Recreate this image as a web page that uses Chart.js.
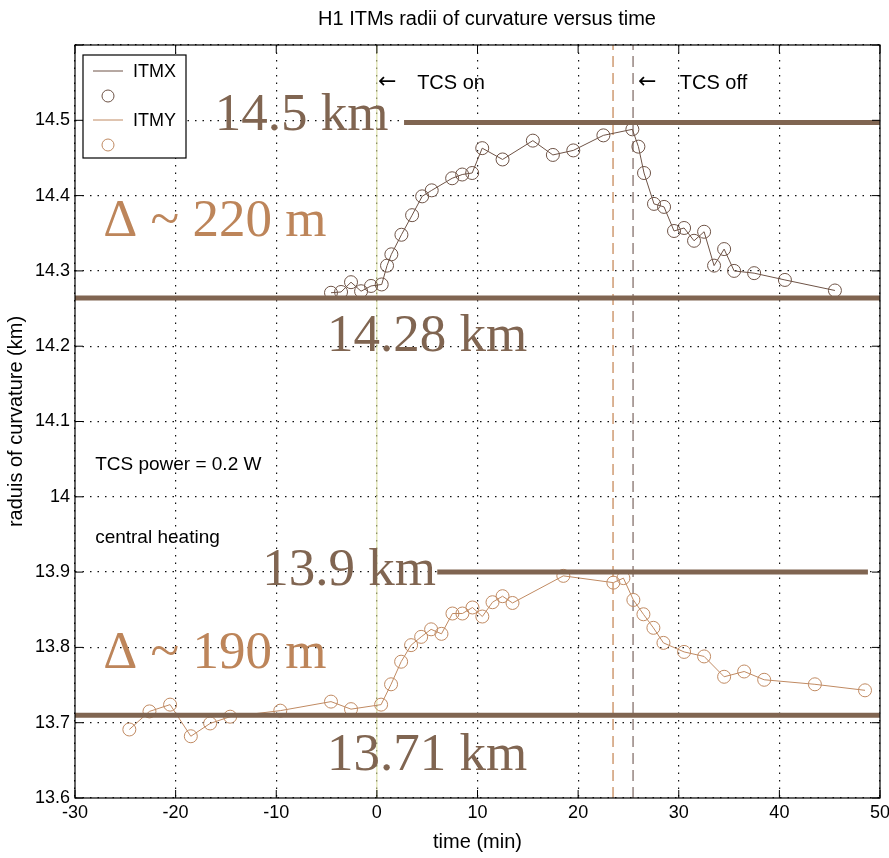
<!DOCTYPE html>
<html>
<head>
<meta charset="utf-8">
<script src="https://cdn.jsdelivr.net/npm/chart.js@4.4.0/dist/chart.umd.min.js"></script>
<style>
  body { margin: 0; background: #fff; }
  canvas { display: block; }
</style>
</head>
<body>
<canvas id="myChart" width="889" height="858"></canvas>
<script>
// ITMX radius of curvature (km) vs time (min)
const itmxTime = [-4.56, -3.56, -2.57, -1.57, -0.58, 0.48, 1.01, 1.44, 2.44, 3.5, 4.5, 5.45, 7.48, 8.48, 9.47,
  10.47, 12.49, 15.5, 17.49, 19.52, 22.51, 25.39, 25.99, 26.55, 27.54, 28.54, 29.53, 30.53, 31.52, 32.52,
  33.51, 34.51, 35.5, 37.49, 40.55, 45.52];
const itmxRadius = [14.271, 14.272, 14.285, 14.273, 14.280, 14.282, 14.307, 14.322, 14.348, 14.374, 14.399, 14.407,
  14.423, 14.428, 14.430, 14.463, 14.448, 14.473, 14.454, 14.460, 14.480, 14.488, 14.465, 14.430, 14.389,
  14.385, 14.353, 14.357, 14.340, 14.352, 14.307, 14.329, 14.300, 14.297, 14.288, 14.274];

// ITMY
const itmyTime = [-24.6, -22.6, -20.55, -18.49, -16.57, -14.58, -9.6, -4.56, -2.57, 0.42, 1.41, 2.41, 3.4, 4.4,
  5.39, 6.42, 7.51, 8.5, 9.5, 10.48, 11.49, 12.49, 13.48, 18.53, 23.5, 24.5, 25.49, 26.49, 27.48, 28.48,
  30.53, 32.52, 34.51, 36.5, 38.49, 43.53, 48.51];
const itmyRadius = [13.691, 13.715, 13.724, 13.682, 13.699, 13.708, 13.716, 13.728, 13.718, 13.724, 13.751, 13.781,
  13.803, 13.814, 13.824, 13.818, 13.845, 13.845, 13.853, 13.841, 13.860, 13.868, 13.859, 13.895, 13.886,
  13.892, 13.863, 13.844, 13.826, 13.806, 13.794, 13.788, 13.761, 13.768, 13.757, 13.751, 13.743];

// reference levels (km) and their time spans
const refLevels = [14.497, 14.264, 13.9, 13.71];
const refStart = [2.7, -30, 6.0, -30];
const refEnd = [50, 50, 48.8, 50];

// TCS on / off markers (min)
const tcsOn = 0;
const tcsOffItmy = 23.47;
const tcsOffItmx = 25.46;

const yMin = 13.6, yMax = 14.6;
const xMin = -30, xMax = 50;

const brown = '#806551';
const tan = '#bd855a';
const itmxColor = '#6e5346';
const itmyColor = '#c08a62';

function pts(xs, ys) {
  return xs.map((x, i) => ({ x: x, y: ys[i] }));
}

const datasets = [];
refLevels.forEach((lv, i) => {
  datasets.push({
    data: [{ x: refStart[i], y: lv }, { x: refEnd[i], y: lv }],
    borderColor: brown, borderWidth: 5, pointRadius: 0, borderCapStyle: 'butt'
  });
});
datasets.push({
  label: 'ITMX', data: pts(itmxTime, itmxRadius),
  borderColor: itmxColor, borderWidth: 1, pointRadius: 6.5, pointBorderWidth: 1,
  pointBorderColor: itmxColor, pointBackgroundColor: 'rgba(0,0,0,0)'
});
datasets.push({
  label: 'ITMY', data: pts(itmyTime, itmyRadius),
  borderColor: itmyColor, borderWidth: 1, pointRadius: 6.5, pointBorderWidth: 1,
  pointBorderColor: itmyColor, pointBackgroundColor: 'rgba(0,0,0,0)'
});
datasets.push({
  data: [{ x: tcsOn, y: yMin }, { x: tcsOn, y: yMax }],
  borderColor: '#d6da98', borderWidth: 1, pointRadius: 0
});
datasets.push({
  data: [{ x: tcsOffItmy, y: yMin }, { x: tcsOffItmy, y: yMax }],
  borderColor: '#cf9a72', borderWidth: 1.5, borderDash: [11, 6], pointRadius: 0
});
datasets.push({
  data: [{ x: tcsOffItmx, y: yMin }, { x: tcsOffItmx, y: yMax }],
  borderColor: '#968580', borderWidth: 1.5, borderDash: [11, 6], pointRadius: 0
});

const sans = '"Liberation Sans", Arial, sans-serif';
const serif = '"Liberation Serif", "Times New Roman", serif';
const big = '53px ' + serif;

const notes = [
  { text: '14.5 km', x: -16.1, y: 14.487, font: big, color: brown },
  { text: '\u0394 ~ 220 m', x: -27.2, y: 14.347, font: big, color: tan },
  { text: '14.28 km', x: -4.96, y: 14.193, font: big, color: brown },
  { text: '13.9 km', x: -11.4, y: 13.883, font: big, color: brown },
  { text: '\u0394 ~ 190 m', x: -27.2, y: 13.773, font: big, color: tan },
  { text: '13.71 km', x: -4.96, y: 13.637, font: big, color: brown },
  { text: '\u2190', x: 0.1, y: 14.543, font: '22px "DejaVu Sans", sans-serif', color: '#000' },
  { text: 'TCS on', x: 4.0, y: 14.541, font: '20px ' + sans, color: '#000' },
  { text: '\u2190', x: 25.95, y: 14.543, font: '22px "DejaVu Sans", sans-serif', color: '#000' },
  { text: 'TCS off', x: 30.1, y: 14.541, font: '20px ' + sans, color: '#000' },
  { text: 'TCS power = 0.2 W', x: -28.0, y: 14.036, font: '19px ' + sans, color: '#000' },
  { text: 'central heating', x: -28.0, y: 13.939, font: '19px ' + sans, color: '#000' }
];

const decor = {
  id: 'decor',
  afterDatasetsDraw(chart) {
    const ctx = chart.ctx;
    const xs = chart.scales.x, ys = chart.scales.y;
    const a = chart.chartArea;
    ctx.save();
    // box
    ctx.strokeStyle = '#000';
    ctx.lineWidth = 1.2;
    ctx.strokeRect(a.left, a.top, a.right - a.left, a.bottom - a.top);
    // inward ticks
    ctx.lineWidth = 1;
    for (let v = xMin; v <= xMax; v += 10) {
      const p = xs.getPixelForValue(v);
      ctx.beginPath();
      ctx.moveTo(p, a.bottom); ctx.lineTo(p, a.bottom - 8);
      ctx.moveTo(p, a.top); ctx.lineTo(p, a.top + 8);
      ctx.stroke();
    }
    for (let i = 0; i <= 10; i++) {
      const p = ys.getPixelForValue(yMin + i * 0.1);
      ctx.beginPath();
      ctx.moveTo(a.left, p); ctx.lineTo(a.left + 8, p);
      ctx.moveTo(a.right, p); ctx.lineTo(a.right - 8, p);
      ctx.stroke();
    }
    // notes
    ctx.textAlign = 'left';
    ctx.textBaseline = 'alphabetic';
    notes.forEach(n => {
      ctx.font = n.font;
      ctx.fillStyle = n.color;
      ctx.fillText(n.text, xs.getPixelForValue(n.x), ys.getPixelForValue(n.y));
    });
    // title
    ctx.font = '20px ' + sans;
    ctx.fillStyle = '#000';
    ctx.textAlign = 'center';
    ctx.fillText('H1 ITMs radii of curvature versus time', 487, 25);
    // legend
    ctx.fillStyle = '#fff';
    ctx.fillRect(83, 55, 103, 103);
    ctx.strokeStyle = '#000';
    ctx.lineWidth = 1.2;
    ctx.strokeRect(83, 55, 103, 103);
    ctx.font = '18px ' + sans;
    ctx.textAlign = 'left';
    ctx.textBaseline = 'middle';
    [[itmxColor, 'ITMX', 71], [itmyColor, 'ITMY', 120]].forEach(e => {
      ctx.strokeStyle = e[0];
      ctx.lineWidth = 1;
      ctx.beginPath();
      ctx.moveTo(93, e[2]); ctx.lineTo(123, e[2]);
      ctx.stroke();
      ctx.beginPath();
      ctx.arc(108, e[2] + 25, 6, 0, Math.PI * 2);
      ctx.stroke();
      ctx.fillStyle = '#000';
      ctx.fillText(e[1], 133, e[2] + 1);
    });
    ctx.restore();
  }
};

function fmt(v) {
  return String(Math.round(v * 10) / 10);
}

new Chart(document.getElementById('myChart').getContext('2d'), {
  type: 'line',
  data: { datasets: datasets },
  options: {
    responsive: false,
    animation: false,
    layout: { padding: { top: 45, right: 9, left: 0, bottom: 0 } },
    plugins: { legend: { display: false }, tooltip: { enabled: false } },
    scales: {
      x: {
        type: 'linear', min: xMin, max: xMax,
        afterFit: s => { s.height = 60; s.paddingRight = 0; s.paddingLeft = 0; },
        ticks: { stepSize: 10, color: '#000', font: { family: sans, size: 18 }, padding: 4, maxRotation: 0 },
        grid: { color: '#111', lineWidth: 1.2, drawTicks: false },
        border: { display: false, dash: [1.5, 6] },
        title: { display: true, text: 'time (min)', color: '#000', font: { family: sans, size: 20 }, padding: { top: 2 } }
      },
      y: {
        type: 'linear', min: yMin, max: yMax,
        afterFit: s => { s.width = 75; s.paddingTop = 0; s.paddingBottom = 0; },
        ticks: {
          stepSize: 0.1, color: '#000', font: { family: sans, size: 18 }, padding: 5,
          callback: v => (Math.abs(v - yMax) < 1e-6 ? '' : fmt(v))
        },
        grid: { color: '#111', lineWidth: 1.2, drawTicks: false },
        border: { display: false, dash: [1.5, 6] },
        title: { display: true, text: 'raduis of curvature (km)', color: '#000', font: { family: sans, size: 20 }, padding: { bottom: 0, top: 4 } }
      }
    }
  },
  plugins: [decor]
});
</script>
</body>
</html>
